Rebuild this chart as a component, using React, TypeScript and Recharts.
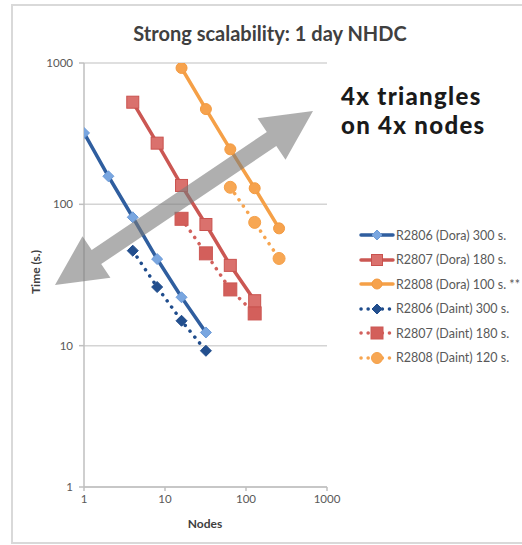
import { CartesianGrid, Line, LineChart, XAxis, YAxis } from 'recharts'

const FONT = 'Lato, "Open Sans", sans-serif'

// nodes / time (s.) per run
const doraNodes2806 = [1, 2, 4, 8, 16, 32]
const doraTime2806 = [320, 158, 81, 41, 22, 12.4]
const daintNodes2806 = [4, 8, 16, 32]
const daintTime2806 = [47, 26, 15, 9.2]
const doraNodes2807 = [4, 8, 16, 32, 64, 128]
const doraTime2807 = [528, 271, 136, 72, 37, 20.8]
const daintNodes2807 = [16, 32, 64, 128]
const daintTime2807 = [79, 45, 25, 16.9]
const doraNodes2808 = [16, 32, 64, 128, 256]
const doraTime2808 = [922, 472, 245, 130, 67.6]
const daintNodes2808 = [64, 128, 256]
const daintTime2808 = [132, 74.5, 41.4]

const axisTicks = [1, 10, 100, 1000]

const zip = (nodes: number[], times: number[]) =>
  nodes.map((n, i) => ({ nodes: n, time: times[i] }))

type Shape = 'diamond' | 'square' | 'circle'

function markerEl(shape: Shape, cx: number, cy: number, r: number, fill: string, stroke: string, key?: any) {
  if (shape === 'diamond') {
    return (
      <path
        key={key}
        d={`M${cx},${cy - r}L${cx + r},${cy}L${cx},${cy + r}L${cx - r},${cy}Z`}
        fill={fill}
        stroke={stroke}
        strokeWidth={1}
        strokeLinejoin="round"
      />
    )
  }
  if (shape === 'square') {
    return <rect key={key} x={cx - r} y={cy - r} width={r * 2} height={r * 2} fill={fill} stroke={stroke} strokeWidth={1} />
  }
  return <circle key={key} cx={cx} cy={cy} r={r} fill={fill} stroke={stroke} strokeWidth={1} />
}

type Series = {
  name: string
  data: { nodes: number; time: number }[]
  color: string
  dotted: boolean
  shape: Shape
  r: number
  fill: string
  stroke: string
}

const series: Series[] = [
  { name: 'R2806 (Dora) 300 s.', data: zip(doraNodes2806, doraTime2806), color: '#2F5E9F', dotted: false, shape: 'diamond', r: 5.5, fill: '#79A6E0', stroke: '#6C9BD8' },
  { name: 'R2807 (Dora) 180 s.', data: zip(doraNodes2807, doraTime2807), color: '#CB5753', dotted: false, shape: 'square', r: 6, fill: '#DA716D', stroke: '#C9524E' },
  { name: 'R2808 (Dora) 100 s. **', data: zip(doraNodes2808, doraTime2808), color: '#F5A047', dotted: false, shape: 'circle', r: 5.5, fill: '#F6A24D', stroke: '#F39A40' },
  { name: 'R2806 (Daint) 300 s.', data: zip(daintNodes2806, daintTime2806), color: '#1F4C8C', dotted: true, shape: 'diamond', r: 5.5, fill: '#234F8E', stroke: '#1F4C8C' },
  { name: 'R2807 (Daint) 180 s.', data: zip(daintNodes2807, daintTime2807), color: '#D2605C', dotted: true, shape: 'square', r: 6.5, fill: '#D35F5B', stroke: '#CC5854' },
  { name: 'R2808 (Daint) 120 s.', data: zip(daintNodes2808, daintTime2808), color: '#F7A550', dotted: true, shape: 'circle', r: 6, fill: '#F7A754', stroke: '#F5A048' },
]

// double-headed arrow annotation
function arrowPoints(x1: number, y1: number, x2: number, y2: number, head: number, headHalf: number, shaftHalf: number) {
  const len = Math.hypot(x2 - x1, y2 - y1)
  const ux = (x2 - x1) / len
  const uy = (y2 - y1) / len
  const nx = -uy
  const ny = ux
  const lb = [x1 + ux * head, y1 + uy * head]
  const rb = [x2 - ux * head, y2 - uy * head]
  const p = (b: number[], k: number) => `${b[0] + nx * k},${b[1] + ny * k}`
  return [
    `${x1},${y1}`,
    p(lb, headHalf),
    p(lb, shaftHalf),
    p(rb, shaftHalf),
    p(rb, headHalf),
    `${x2},${y2}`,
    p(rb, -headHalf),
    p(rb, -shaftHalf),
    p(lb, -shaftHalf),
    p(lb, -headHalf),
  ].join(' ')
}

function LegendItem({ s }: { s: Series }) {
  return (
    <div style={{ display: 'flex', alignItems: 'center', height: 24.5 }}>
      <svg width={36} height={14} style={{ display: 'block' }}>
        <line
          x1={2}
          y1={7}
          x2={34}
          y2={7}
          stroke={s.color}
          strokeWidth={3.5}
          strokeLinecap="round"
          strokeDasharray={s.dotted ? '0.1 7' : undefined}
        />
        {markerEl(s.shape, 18, 7, s.r - 0.5, s.fill, s.stroke)}
      </svg>
      <span style={{ fontSize: 12.5, color: '#595959', marginLeft: 1, whiteSpace: 'nowrap' }}>{s.name}</span>
    </div>
  )
}

export default function App() {
  const drawOrder = [series[3], series[4], series[5], series[0], series[1], series[2]]
  return (
    <div style={{ position: 'absolute', left: 0, top: 0, width: 522, height: 545, background: '#fff', fontFamily: FONT, overflow: 'hidden' }}>
      <svg width={522} height={545} style={{ position: 'absolute', left: 0, top: 0 }}>
        <rect x={12} y={5} width={530} height={538} fill="none" stroke="#D9D9D9" strokeWidth={2} />
      </svg>
      <div style={{ position: 'absolute', left: 0, top: 0 }}>
        <LineChart width={522} height={545} margin={{ top: 63, right: 195, bottom: 28, left: 54 }}>
          <CartesianGrid vertical={false} stroke="#D4D4D4" strokeWidth={1.5} />
          <XAxis
            type="number"
            dataKey="nodes"
            scale="log"
            domain={[1, 1000]}
            ticks={axisTicks}
            allowDataOverflow
            height={30}
            tickSize={4}
            tickMargin={4}
            stroke="#BFBFBF"
            strokeWidth={1.5}
            tick={{ fontSize: 11.5, fill: '#595959', fontFamily: FONT }}
          />
          <YAxis
            type="number"
            dataKey="time"
            scale="log"
            domain={[1, 1000]}
            ticks={axisTicks}
            allowDataOverflow
            width={30}
            tickSize={5}
            tickMargin={6}
            stroke="#BFBFBF"
            strokeWidth={1.5}
            tick={{ fontSize: 11.5, fill: '#595959', fontFamily: FONT }}
          />
          {drawOrder.map((s) => (
            <Line
              key={s.name}
              data={s.data}
              dataKey="time"
              name={s.name}
              type="linear"
              stroke={s.color}
              strokeWidth={3.5}
              strokeLinecap="round"
              strokeDasharray={s.dotted ? '0.1 7.5' : undefined}
              dot={(p: any) => markerEl(s.shape, p.cx, p.cy, s.r, s.fill, s.stroke, p.index)}
              activeDot={false}
              isAnimationActive={false}
            />
          ))}
        </LineChart>
      </div>
      <svg width={522} height={545} style={{ position: 'absolute', left: 0, top: 0, pointerEvents: 'none' }}>
        <text x={270} y={41} textAnchor="middle" fontSize={20} fontWeight={700} fill="#404040" fontFamily={FONT}>
          Strong scalability: 1 day NHDC
        </text>
        <polygon points={arrowPoints(55, 285, 313, 111, 50, 25, 8.5)} fill="#7A7A7A" fillOpacity={0.6} />
        <text x={341} y={105} fontSize={24} fontWeight={900} letterSpacing={1.3} fill="#1A1A1A" fontFamily={FONT}>
          4x triangles
        </text>
        <text x={341} y={134} fontSize={24} fontWeight={900} letterSpacing={1.3} fill="#1A1A1A" fontFamily={FONT}>
          on 4x nodes
        </text>
        <text x={205} y={528} textAnchor="middle" fontSize={12} fontWeight={700} fill="#404040" fontFamily={FONT}>
          Nodes
        </text>
        <text
          x={37}
          y={272}
          textAnchor="middle"
          dominantBaseline="middle"
          fontSize={12}
          fontWeight={700}
          fill="#404040"
          fontFamily={FONT}
          transform="rotate(-90 37 272)"
        >
          Time (s.)
        </text>
      </svg>
      <div style={{ position: 'absolute', left: 359, top: 223 }}>
        {series.map((s) => (
          <LegendItem key={s.name} s={s} />
        ))}
      </div>
    </div>
  )
}
